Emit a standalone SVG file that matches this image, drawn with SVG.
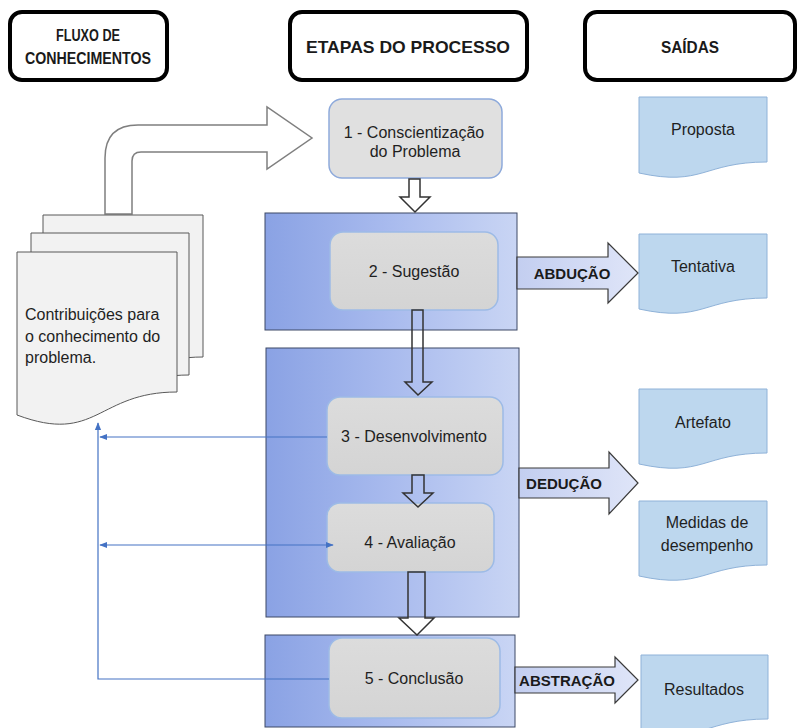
<svg xmlns="http://www.w3.org/2000/svg" width="802" height="728" viewBox="0 0 802 728">
<defs>
<linearGradient id="panelGrad" x1="0" y1="0" x2="1" y2="0">
<stop offset="0" stop-color="#8aa2e4"/>
<stop offset="0.5" stop-color="#a9bbee"/>
<stop offset="1" stop-color="#c9d5f4"/>
</linearGradient>
<linearGradient id="fatGrad" x1="0" y1="0" x2="1" y2="0">
<stop offset="0" stop-color="#c3cef0"/>
<stop offset="1" stop-color="#dfe5f8"/>
</linearGradient>
<linearGradient id="boxGrad" x1="0" y1="0" x2="0" y2="1">
<stop offset="0" stop-color="#dcdcdc"/>
<stop offset="1" stop-color="#d4d4d4"/>
</linearGradient>
<marker id="ah" viewBox="0 0 10 10" refX="9" refY="5" markerWidth="8" markerHeight="8" markerUnits="userSpaceOnUse" orient="auto-start-reverse">
<path d="M0,1 L10,5 L0,9 Z" fill="#4472c4"/>
</marker>
</defs>
<style>
.hdr{fill:#ffffff;stroke:#000000;stroke-width:4}
.hdrt{font-family:"Liberation Sans",Arial,sans-serif;font-weight:bold;font-size:16px;fill:#1a1a1a;text-anchor:middle}
.panel{fill:url(#panelGrad);stroke:#3c4866;stroke-width:1}
.step{fill:url(#boxGrad);stroke:#9dbbe6;stroke-width:1.5}
.txt{font-family:"Liberation Sans",Arial,sans-serif;font-size:16px;fill:#1f1f1f;text-anchor:middle}
.lbl{font-family:"Liberation Sans",Arial,sans-serif;font-weight:bold;font-size:15px;fill:#1a1a1a;text-anchor:middle}
.fat{fill:url(#fatGrad);stroke:#3a3a3a;stroke-width:1.2}
.down{fill:none;stroke:#333333;stroke-width:1.5}
.out{fill:#bdd7ee;stroke:#8fb2d8;stroke-width:1}
.doc{fill:#f2f2f2;stroke:#595959;stroke-width:1}
.fb{fill:none;stroke:#4472c4;stroke-width:1.2}
</style>
<rect width="802" height="728" fill="#ffffff"/>

<g id="header-fluxo">
<rect class="hdr" x="10" y="12" width="157" height="68" rx="12"/>
<text class="hdrt" x="88" y="41" textLength="64" lengthAdjust="spacingAndGlyphs">FLUXO DE</text>
<text class="hdrt" x="88" y="64" textLength="126" lengthAdjust="spacingAndGlyphs">CONHECIMENTOS</text>
</g>
<g id="header-etapas">
<rect class="hdr" x="290" y="12" width="237" height="68" rx="12"/>
<text class="hdrt" x="408" y="53" font-size="17" style="font-size:17px" textLength="204" lengthAdjust="spacingAndGlyphs">ETAPAS DO PROCESSO</text>
</g>
<g id="header-saidas">
<rect class="hdr" x="585" y="12" width="210" height="68" rx="12"/>
<text class="hdrt" x="690" y="53" style="font-size:17px" textLength="58" lengthAdjust="spacingAndGlyphs">SAÍDAS</text>
</g>

<g id="bent-arrow">
<path d="M105,214 V158 Q105,125 138,125 H267 V107 L312,138 L267,169 V152 H141 Q132,152 132,161 V214 Z" fill="#ffffff" stroke="#7f7f7f" stroke-width="1.5"/>
</g>

<g id="contribuicoes">
<path class="doc" d="M43,215 H203 V357 C123,357 123,410 43,380 Z"/>
<path class="doc" d="M31,233 H189 V375 C110,375 110,428 31,398 Z"/>
<path class="doc" d="M17,252 H177 V392 C97,392 97,445 17,415 Z"/>
<text font-family="Liberation Sans, Arial, sans-serif" font-size="16" fill="#1f1f1f">
<tspan x="25" y="320">Contribuições para</tspan>
<tspan x="25" y="342">o conhecimento do</tspan>
<tspan x="25" y="363">problema.</tspan>
</text>
</g>

<g id="panel-2">
<rect class="panel" x="265" y="213" width="252" height="117"/>
</g>
<g id="panel-3">
<rect class="panel" x="266" y="348" width="253" height="269"/>
</g>
<g id="panel-5">
<rect class="panel" x="265" y="635" width="250" height="92"/>
</g>

<g id="step-1">
<rect class="step" x="329" y="99" width="173" height="79" rx="13" style="fill:#e0e0e0;stroke:#8eaadb"/>
<text class="txt" x="414" y="138">1 - Conscientização</text>
<text class="txt" x="415" y="157">do Problema</text>
</g>
<g id="step-2">
<rect class="step" x="330" y="232" width="168" height="78" rx="13"/>
<text class="txt" x="414" y="277">2 - Sugestão</text>
</g>
<g id="step-3">
<rect class="step" x="327" y="397" width="176" height="78" rx="13"/>
<text class="txt" x="414" y="442">3 - Desenvolvimento</text>
</g>
<g id="step-4">
<rect class="step" x="327" y="503" width="167" height="69" rx="13"/>
<text class="txt" x="410" y="548">4 - Avaliação</text>
</g>
<g id="step-5">
<rect class="step" x="329" y="638" width="171" height="80" rx="13"/>
<text class="txt" x="414" y="684">5 - Conclusão</text>
</g>

<g id="out-proposta">
<path class="out" d="M639,97 H767 V162 C703,162 703,187 639,173 Z"/>
<text class="txt" x="703" y="135">Proposta</text>
</g>
<g id="out-tentativa">
<path class="out" d="M639,234 H767 V298 C703,298 703,323 639,309 Z"/>
<text class="txt" x="703" y="272">Tentativa</text>
</g>
<g id="out-artefato">
<path class="out" d="M639,389 H767 V453 C703,453 703,478 639,464 Z"/>
<text class="txt" x="703" y="428">Artefato</text>
</g>
<g id="out-medidas">
<path class="out" d="M639,501 H767 V565 C703,565 703,590 639,576 Z"/>
<text class="txt" x="707" y="528">Medidas de</text>
<text class="txt" x="707" y="551">desempenho</text>
</g>
<g id="out-resultados">
<path class="out" d="M641,655 H768 V719 C704,719 704,744 641,730 Z"/>
<text class="txt" x="704" y="695">Resultados</text>
</g>

<g id="connectors">
<path d="M409,179 H420 V197 H430 L415,212 L400,197 H409 Z" fill="#ffffff" stroke="#333333" stroke-width="1.5"/>
<path class="down" d="M412,310 H423 V382 H432 L418,395 L405,382 H412 Z"/>
<path class="down" d="M412,475 H424 V493 H433 L418,507 L403,493 H412 Z"/>
<path class="down" d="M408,572 H425 V618 H434 L417,635 L399,618 H408 Z"/>

<path class="fat" d="M517,257 H608 V243 L638,273 L608,303 V289 H517 Z"/>
<text class="lbl" x="572" y="279">ABDUÇÃO</text>
<path class="fat" d="M519,468 H609 V452 L638,483 L609,514 V498 H519 Z"/>
<text class="lbl" x="564" y="489">DEDUÇÃO</text>
<path class="fat" d="M515,667 H615 V657 L638,680 L615,703 V693 H515 Z"/>
<text class="lbl" x="567" y="686">ABSTRAÇÃO</text>

<path class="fb" d="M327,437 H100" marker-end="url(#ah)"/>
<path class="fb" d="M333,545 H100" marker-start="url(#ah)" marker-end="url(#ah)"/>
<path class="fb" d="M329,679 H98 V423" marker-end="url(#ah)"/>
</g>
</svg>
